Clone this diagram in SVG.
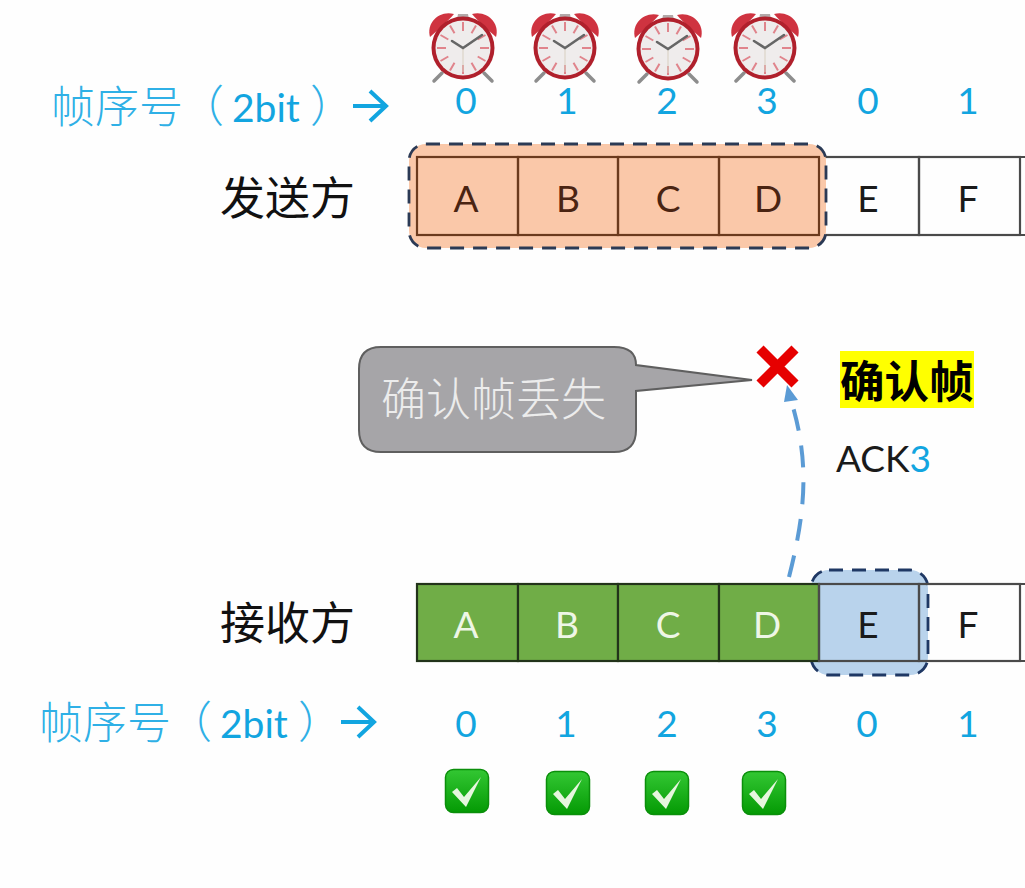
<svg xmlns="http://www.w3.org/2000/svg" xmlns:xlink="http://www.w3.org/1999/xlink" width="1025" height="888" viewBox="0 0 1025 888">
<style>
.cjk{font-family:"Noto Sans CJK SC","Liberation Sans",sans-serif}
.lat{font-family:Lato,"Open Sans",sans-serif}
.seq{font-size:37px;fill:#12a5e0;text-anchor:middle}
.lbl{font-size:37px;text-anchor:middle;fill:#1a1a1a}
.lblo{font-size:37px;text-anchor:middle;fill:#4a2412}
.lblg{font-size:37px;text-anchor:middle;fill:#eef6e6}
.hdr{font-size:45px;fill:#111;font-weight:400}
.seqcn{font-size:44px;fill:#2fb0e6;font-weight:300}
.seqlat{font-size:39px;fill:#12a5e0}
.cell{fill:none;stroke:#4a4a4a;stroke-width:2.2}
.cello{fill:none;stroke:#6b3a1d;stroke-width:2.2}
.green{fill:#70ad47;stroke:#22331a;stroke-width:2.2}
.win{stroke-width:2.8;stroke-dasharray:14 9}
.arr{fill:none;stroke:#12a5e0;stroke-width:4}
</style>
<defs>
<linearGradient id="gr" x1="0" y1="0" x2="0" y2="1"><stop offset="0" stop-color="#33c733"/><stop offset="1" stop-color="#049a04"/></linearGradient>
<g id="clock">
<path d="M-21 25L-29 33M21 25L29 33" stroke="#8d8d8d" stroke-width="3.500" stroke-linecap="round"/>
<path d="M-6 -29L-5 -34H5L6 -29Z" fill="#b3a9a9"/>
<path d="M-33 -11C-37 -25-24 -38-9 -34C-15 -27-24 -19-33 -11Z" fill="#cf3340"/>
<path d="M33 -11C37 -25 24 -38 9 -34C15 -27 24 -19 33 -11Z" fill="#cf3340"/>
<circle r="31.500" fill="#b0202c"/>
<circle r="27.500" fill="#efecec"/>
<path d="M0 -26V-17M0 26V17M-26 0H-17M26 0H17M-13 -22.500L-8.500 -14.700M13 -22.500L8.500 -14.700M-13 22.500L-8.500 14.700M13 22.500L8.500 14.700M-22.500 -13L-14.700 -8.500M22.500 -13L14.700 -8.500M-22.500 13L-14.700 8.500M22.500 13L14.700 8.500" stroke="#e0848c" stroke-width="2"/>
<path d="M0 0V24" stroke="#d8cfc0" stroke-width="1"/>
<path d="M-11 -7L0 0L19 -13" fill="none" stroke="#666" stroke-width="2.600" stroke-linecap="round"/>
</g>
<g id="check">
<rect x="-21.500" y="-21.500" width="43" height="43" rx="8" fill="url(#gr)" stroke="#0b8f0b" stroke-width="1.500"/>
<path d="M-15 1L-10 -3L-3 6L14 -14L-1 16Z" fill="#e6f6de"/>
</g>
</defs>
<rect width="1025" height="888" fill="#fefefe"/>

<g id="timers">
<use xlink:href="#clock" href="#clock" x="463" y="48"/>
<use xlink:href="#clock" href="#clock" x="565" y="48"/>
<use xlink:href="#clock" href="#clock" x="668" y="49"/>
<use xlink:href="#clock" href="#clock" x="765" y="48"/>
</g>

<g id="sender-seq">
<text class="cjk seqcn" x="51" y="123">帧序号</text>
<text class="cjk seqcn" x="180" y="122">（</text>
<text class="lat seqlat" x="232" y="122">2bit</text>
<text class="cjk seqcn" x="310" y="122">）</text>
<path class="arr" d="M353 106H385M370 91L386 106L370 121"/>
<text class="lat seq" x="466" y="114">0</text>
<text class="lat seq" x="567" y="114">1</text>
<text class="lat seq" x="667" y="114">2</text>
<text class="lat seq" x="767" y="114">3</text>
<text class="lat seq" x="868" y="114">0</text>
<text class="lat seq" x="968" y="114">1</text>
</g>

<g id="sender">
<text class="cjk hdr" x="220" y="215">发送方</text>
<rect class="cell" x="819" y="157" width="100" height="78"/>
<rect class="cell" x="919" y="157" width="101" height="78"/>
<path class="cell" d="M1020 157H1025M1020 235H1025"/>
<rect id="send-window" class="win" x="409" y="144" width="417" height="104" rx="17" fill="#fac8a9" stroke="#2b3a55"/>
<rect class="cello" x="417" y="157" width="101" height="78"/>
<rect class="cello" x="518" y="157" width="100" height="78"/>
<rect class="cello" x="618" y="157" width="101" height="78"/>
<rect class="cello" x="719" y="157" width="100" height="78"/>
<text class="lat lblo" x="466" y="212">A</text>
<text class="lat lblo" x="568" y="212">B</text>
<text class="lat lblo" x="668" y="212">C</text>
<text class="lat lblo" x="768" y="212">D</text>
<text class="lat lbl" x="868" y="212">E</text>
<text class="lat lbl" x="968" y="212">F</text>
</g>

<g id="lost-callout">
<path d="M381 347H614Q636 347 636 365L752 380L636 391V430Q636 452 614 452H381Q359 452 359 430V369Q359 347 381 347Z" fill="#a6a5a8" stroke="#5f5f5f" stroke-width="2"/>
<text class="cjk" x="381" y="416" font-size="45" font-weight="300" fill="#ececec">确认帧丢失</text>
</g>

<g id="connectors">
<path d="M789 577C806 510 810 460 790 397" fill="none" stroke="#5b9bd5" stroke-width="4" stroke-dasharray="22 15"/>
<path d="M787 385L798 400L784 402Z" fill="#5b9bd5"/>
</g>

<g id="lost-mark">
<path d="M760 349L795 384M795 349L760 384" stroke="#e60000" stroke-width="10"/>
</g>

<g id="ack-label">
<rect x="840" y="351" width="134" height="57" fill="#ffff00"/>
<text class="cjk" x="840" y="398" font-size="44.500" font-weight="700" fill="#000">确认帧</text>
<text class="lat" x="836" y="472" font-size="37" fill="#1a1a1a">ACK<tspan fill="#12a5e0">3</tspan></text>
</g>

<g id="receiver">
<text class="cjk hdr" x="220" y="640">接收方</text>
<rect id="recv-window" class="win" x="811" y="570" width="117" height="105" rx="18" fill="#b9d3ec" stroke="#1f3864"/>
<rect class="green" x="417" y="584" width="101" height="77"/>
<rect class="green" x="518" y="584" width="100" height="77"/>
<rect class="green" x="618" y="584" width="101" height="77"/>
<rect class="green" x="719" y="584" width="100" height="77"/>
<rect class="cell" x="819" y="584" width="100" height="77"/>
<rect class="cell" x="919" y="584" width="101" height="77"/>
<path class="cell" d="M1020 584H1025M1020 661H1025"/>
<text class="lat lblg" x="466" y="638">A</text>
<text class="lat lblg" x="567" y="638">B</text>
<text class="lat lblg" x="668" y="638">C</text>
<text class="lat lblg" x="767" y="638">D</text>
<text class="lat lbl" x="868" y="638">E</text>
<text class="lat lbl" x="968" y="638">F</text>
</g>

<g id="receiver-seq">
<text class="cjk seqcn" x="39" y="739">帧序号</text>
<text class="cjk seqcn" x="168" y="738">（</text>
<text class="lat seqlat" x="220" y="738">2bit</text>
<text class="cjk seqcn" x="298" y="738">）</text>
<path class="arr" d="M341 722H373M358 707L374 722L358 737"/>
<text class="lat seq" x="466" y="737">0</text>
<text class="lat seq" x="566" y="737">1</text>
<text class="lat seq" x="667" y="737">2</text>
<text class="lat seq" x="767" y="737">3</text>
<text class="lat seq" x="867" y="737">0</text>
<text class="lat seq" x="968" y="737">1</text>
</g>

<g id="checks">
<use xlink:href="#check" href="#check" x="467" y="791"/>
<use xlink:href="#check" href="#check" x="568" y="793"/>
<use xlink:href="#check" href="#check" x="667" y="793"/>
<use xlink:href="#check" href="#check" x="764" y="793"/>
</g>
</svg>
